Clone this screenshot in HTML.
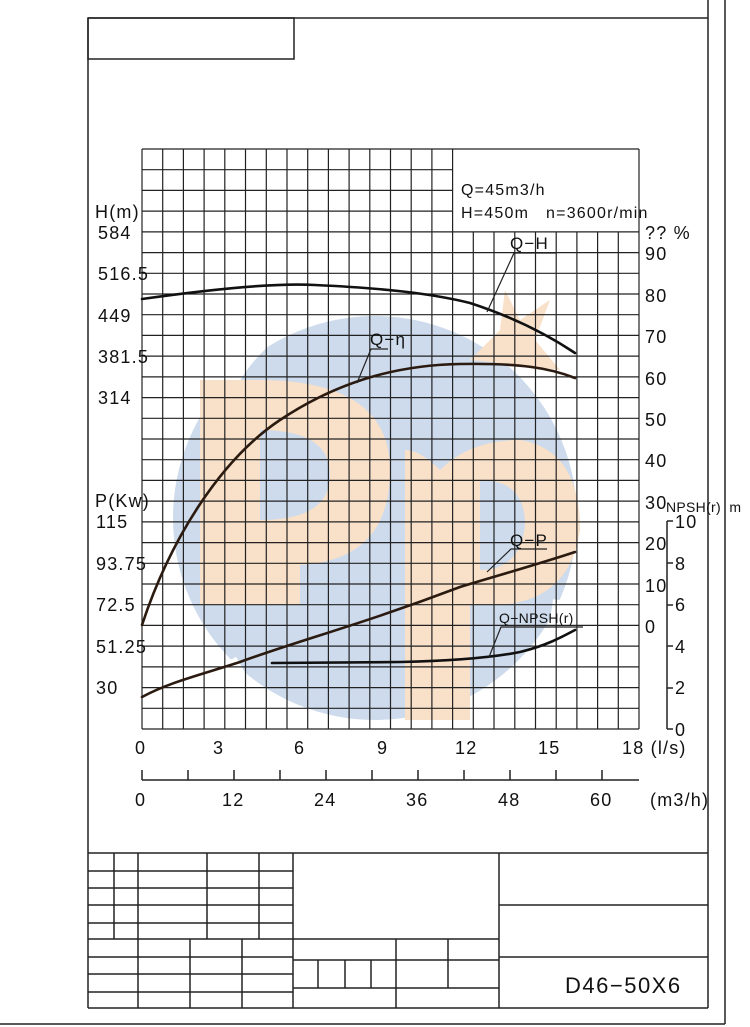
<!DOCTYPE html>
<html><head><meta charset="utf-8"><style>
html,body{margin:0;padding:0;background:#fff;}
svg{display:block;}
text{font-family:"Liberation Sans",sans-serif;fill:#111;}
</style></head><body>
<svg width="750" height="1027" viewBox="0 0 750 1027" xmlns="http://www.w3.org/2000/svg">
<rect width="750" height="1027" fill="#fff"/>
<!-- watermark -->
<circle cx="375" cy="518" r="202" fill="#cddbec"/>
<path d="M215,420 A175,175 0 0 1 520,360" stroke="#fff" stroke-width="14" fill="none"/>
<path d="M230,660 A175,175 0 0 0 560,600" stroke="#fff" stroke-width="14" fill="none"/>
<path d="M200,380 L258,380 Q390,380 390,470 Q390,560 300,565 L300,605 L200,605 Z" fill="#f9e0c8"/>
<path d="M260,430 Q330,430 330,475 Q330,520 260,520 Z" fill="#cddbec"/>
<path d="M405,450 Q420,450 440,470 Q470,440 520,440 Q580,450 580,530 Q570,600 500,605 L470,605 L470,720 L405,720 Z" fill="#f9e0c8"/>
<path d="M480,480 Q525,480 525,525 Q520,570 480,570 Z" fill="#cddbec"/>
<path d="M470,360 L500,330 L505,290 L520,320 L550,300 L535,340 L560,370 L520,365 Z" fill="#f9e0c8"/>
<!-- grid -->
<g stroke="#222" stroke-width="1.2">
<line x1="142" y1="149" x2="142" y2="729"/><line x1="162.7" y1="149" x2="162.7" y2="729"/><line x1="183.4" y1="149" x2="183.4" y2="729"/><line x1="204.1" y1="149" x2="204.1" y2="729"/><line x1="224.8" y1="149" x2="224.8" y2="729"/><line x1="245.5" y1="149" x2="245.5" y2="729"/><line x1="266.3" y1="149" x2="266.3" y2="729"/><line x1="287" y1="149" x2="287" y2="729"/><line x1="307.7" y1="149" x2="307.7" y2="729"/><line x1="328.4" y1="149" x2="328.4" y2="729"/><line x1="349.1" y1="149" x2="349.1" y2="729"/><line x1="369.8" y1="149" x2="369.8" y2="729"/><line x1="390.5" y1="149" x2="390.5" y2="729"/><line x1="411.2" y1="149" x2="411.2" y2="729"/><line x1="431.9" y1="149" x2="431.9" y2="729"/><line x1="452.6" y1="149" x2="452.6" y2="729"/>
<line x1="473.3" y1="232" x2="473.3" y2="729"/><line x1="494" y1="232" x2="494" y2="729"/><line x1="514.8" y1="232" x2="514.8" y2="729"/><line x1="535.5" y1="232" x2="535.5" y2="729"/><line x1="556.2" y1="232" x2="556.2" y2="729"/><line x1="576.9" y1="232" x2="576.9" y2="729"/><line x1="597.6" y1="232" x2="597.6" y2="729"/><line x1="618.3" y1="232" x2="618.3" y2="729"/><line x1="639" y1="149" x2="639" y2="729"/>
<line x1="142" y1="149" x2="639" y2="149"/>
<line x1="142" y1="169.7" x2="453" y2="169.7"/><line x1="142" y1="190.4" x2="453" y2="190.4"/><line x1="142" y1="211.1" x2="453" y2="211.1"/>
<line x1="142" y1="231.9" x2="639" y2="231.9"/><line x1="142" y1="252.6" x2="639" y2="252.6"/><line x1="142" y1="273.3" x2="639" y2="273.3"/><line x1="142" y1="294" x2="639" y2="294"/><line x1="142" y1="314.7" x2="639" y2="314.7"/><line x1="142" y1="335.4" x2="639" y2="335.4"/><line x1="142" y1="356.1" x2="639" y2="356.1"/><line x1="142" y1="376.9" x2="639" y2="376.9"/><line x1="142" y1="397.6" x2="639" y2="397.6"/><line x1="142" y1="418.3" x2="639" y2="418.3"/><line x1="142" y1="439" x2="639" y2="439"/><line x1="142" y1="459.7" x2="639" y2="459.7"/><line x1="142" y1="480.4" x2="639" y2="480.4"/><line x1="142" y1="501.1" x2="639" y2="501.1"/><line x1="142" y1="521.9" x2="639" y2="521.9"/><line x1="142" y1="542.6" x2="639" y2="542.6"/><line x1="142" y1="563.3" x2="639" y2="563.3"/><line x1="142" y1="584" x2="639" y2="584"/><line x1="142" y1="604.7" x2="639" y2="604.7"/><line x1="142" y1="625.4" x2="639" y2="625.4"/><line x1="142" y1="646.1" x2="639" y2="646.1"/><line x1="142" y1="666.9" x2="639" y2="666.9"/><line x1="142" y1="687.6" x2="639" y2="687.6"/><line x1="142" y1="708.3" x2="639" y2="708.3"/><line x1="142" y1="729" x2="639" y2="729"/>
</g>
<!-- frame -->
<g stroke="#222" stroke-width="1.5" fill="none">
<line x1="88" y1="18" x2="708" y2="18"/>
<line x1="88" y1="18" x2="88" y2="1008"/>
<line x1="708" y1="0" x2="708" y2="1008"/>
<line x1="725" y1="0" x2="725" y2="1024"/>
<line x1="0" y1="1024" x2="725" y2="1024"/>
<rect x="88" y="18" width="206" height="41"/>
<line x1="88" y1="853" x2="708" y2="853"/>
<line x1="88" y1="1008" x2="708" y2="1008"/>
<line x1="88" y1="871" x2="293" y2="871"/><line x1="88" y1="888" x2="293" y2="888"/><line x1="88" y1="905" x2="293" y2="905"/><line x1="88" y1="923" x2="293" y2="923"/><line x1="88" y1="939" x2="499" y2="939"/><line x1="88" y1="957" x2="293" y2="957"/><line x1="88" y1="974" x2="293" y2="974"/><line x1="88" y1="992" x2="293" y2="992"/>
<line x1="114" y1="853" x2="114" y2="939"/><line x1="138" y1="853" x2="138" y2="1008"/><line x1="207" y1="853" x2="207" y2="939"/><line x1="259" y1="853" x2="259" y2="939"/><line x1="190" y1="939" x2="190" y2="1008"/><line x1="242" y1="939" x2="242" y2="1008"/>
<line x1="293" y1="853" x2="293" y2="1008"/><line x1="499" y1="853" x2="499" y2="1008"/>
<line x1="293" y1="960" x2="499" y2="960"/><line x1="293" y1="988" x2="499" y2="988"/>
<line x1="396" y1="939" x2="396" y2="1008"/><line x1="448" y1="939" x2="448" y2="988"/>
<line x1="318" y1="960" x2="318" y2="988"/><line x1="345" y1="960" x2="345" y2="988"/><line x1="371" y1="960" x2="371" y2="988"/>
<line x1="499" y1="905" x2="708" y2="905"/><line x1="499" y1="957" x2="708" y2="957"/>
<line x1="667" y1="521" x2="667" y2="729"/>
<line x1="667" y1="521" x2="673" y2="521"/><line x1="667" y1="563" x2="673" y2="563"/><line x1="667" y1="605" x2="673" y2="605"/><line x1="667" y1="646" x2="673" y2="646"/><line x1="667" y1="688" x2="673" y2="688"/><line x1="667" y1="729" x2="673" y2="729"/>
<line x1="142" y1="780" x2="639" y2="780"/>
<line x1="142" y1="770" x2="142" y2="780"/><line x1="188" y1="770" x2="188" y2="780"/><line x1="234" y1="770" x2="234" y2="780"/><line x1="280" y1="770" x2="280" y2="780"/><line x1="326" y1="770" x2="326" y2="780"/><line x1="372" y1="770" x2="372" y2="780"/><line x1="418" y1="770" x2="418" y2="780"/><line x1="464" y1="770" x2="464" y2="780"/><line x1="510" y1="770" x2="510" y2="780"/><line x1="556" y1="770" x2="556" y2="780"/><line x1="602" y1="770" x2="602" y2="780"/>
</g>
<!-- curves -->
<g fill="none" stroke-width="2.6" stroke-linecap="round">
<path d="M142,299 C220,288 280,283 315,285 C380,288 430,293 470,303 C510,316 545,333 575,353" stroke="#111"/>
<path d="M142,625 C170,540 220,460 280,420 C340,380 400,365 460,364 C520,363 550,368 575,378" stroke="#2a1a10"/>
<path d="M142,697 C170,682 200,675 240,662 C300,640 360,625 460,587 C510,572 545,562 575,552" stroke="#2a1a10"/>
<path d="M272,663 L400,662 C450,661 490,658 520,652 C545,646 560,638 575,630" stroke="#111"/>
</g>
<g stroke="#222" stroke-width="1.2" fill="none">
<path d="M487,312 L514,253 L556,253"/>
<path d="M357,383 L371,349 L388,349"/>
<path d="M487,572 L511,549 L547,549"/>
<path d="M489,657 L501,627 L583,627"/>
</g>
<g font-size="18" letter-spacing="1.2">
<text x="510" y="249" font-size="17">Q−H</text>
<text x="370" y="345" font-size="17">Q−η</text>
<text x="510" y="546" font-size="17">Q−P</text>
<text x="499" y="623" font-size="14" letter-spacing="0.3">Q−NPSH(r)</text>
<text x="461" y="195" font-size="16">Q=45m3/h</text>
<text x="461" y="218" font-size="16">H=450m&#160;&#160;&#160;n=3600r/min</text>
<text x="95" y="218">H(m)</text>
<text x="98" y="239">584</text>
<text x="98" y="280">516.5</text>
<text x="98" y="322">449</text>
<text x="98" y="363">381.5</text>
<text x="98" y="404">314</text>
<text x="95" y="507">P(Kw)</text>
<text x="96" y="528">115</text>
<text x="96" y="570">93.75</text>
<text x="96" y="611">72.5</text>
<text x="96" y="653">51.25</text>
<text x="96" y="694">30</text>
<text x="645" y="239">?? %</text>
<text x="645" y="260">90</text>
<text x="645" y="302">80</text>
<text x="645" y="343">70</text>
<text x="645" y="385">60</text>
<text x="645" y="426">50</text>
<text x="645" y="467">40</text>
<text x="645" y="509">30</text>
<text x="645" y="550">20</text>
<text x="645" y="592">10</text>
<text x="645" y="633">0</text>
<text x="666" y="512" font-size="14" letter-spacing="0.3">NPSH(r)&#160;&#160;m</text>
<text x="675" y="528">10</text>
<text x="675" y="570">8</text>
<text x="675" y="611">6</text>
<text x="675" y="653">4</text>
<text x="675" y="694">2</text>
<text x="675" y="736">0</text>
<text x="135" y="754">0</text>
<text x="213" y="754">3</text>
<text x="294" y="754">6</text>
<text x="377" y="754">9</text>
<text x="455" y="754">12</text>
<text x="538" y="754">15</text>
<text x="622" y="754">18 (l/s)</text>
<text x="135" y="806">0</text>
<text x="222" y="806">12</text>
<text x="314" y="806">24</text>
<text x="406" y="806">36</text>
<text x="498" y="806">48</text>
<text x="590" y="806">60</text>
<text x="650" y="806">(m3/h)</text>
<text x="565" y="993" font-size="22" letter-spacing="1.5">D46−50X6</text>
</g>
</svg>
</body></html>
